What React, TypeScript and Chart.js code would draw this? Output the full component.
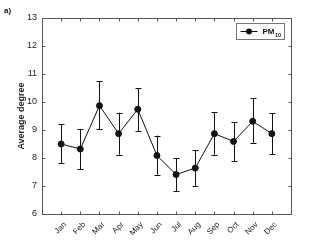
import React, { useEffect, useRef } from "react";
import { Chart, registerables } from "chart.js";

Chart.register(...registerables);

const months = ["Jan", "Feb", "Mar", "Apr", "May", "Jun", "Jul", "Aug", "Sep", "Oct", "Nov", "Dec"];
const meanValues = [8.5, 8.32, 9.87, 8.87, 9.74, 8.09, 7.41, 7.64, 8.87, 8.59, 9.31, 8.87];
const upperValues = [9.2, 9.04, 10.74, 9.62, 10.5, 8.8, 8.0, 8.29, 9.64, 9.29, 10.13, 9.6];
const lowerValues = [7.82, 7.6, 9.02, 8.12, 8.95, 7.4, 6.82, 7.0, 8.12, 7.89, 8.54, 8.14];
const yTicks = [6, 7, 8, 9, 10, 11, 12, 13];
const seriesName = "PM";
const seriesSub = "10";
const panelLabel = "a)";
const yTitle = "Average degree";

const FONT = "'Liberation Sans', Arial, sans-serif";

const framePlugin = {
  id: "frame",
  afterDatasetsDraw(chart: any) {
    const { ctx, chartArea: a, scales } = chart;
    const xs = scales.x;
    const ys = scales.y;
    ctx.save();
    // error bars
    ctx.strokeStyle = "#111";
    ctx.lineWidth = 1;
    months.forEach((_, i) => {
      const px = Math.round(xs.getPixelForValue(i + 1)) + 0.5;
      const top = ys.getPixelForValue(upperValues[i]);
      const bot = ys.getPixelForValue(lowerValues[i]);
      ctx.beginPath();
      ctx.moveTo(px, top);
      ctx.lineTo(px, bot);
      ctx.moveTo(px - 3, Math.round(top) + 0.5);
      ctx.lineTo(px + 3, Math.round(top) + 0.5);
      ctx.moveTo(px - 3, Math.round(bot) + 0.5);
      ctx.lineTo(px + 3, Math.round(bot) + 0.5);
      ctx.stroke();
    });
    // box
    ctx.strokeStyle = "#555";
    ctx.lineWidth = 1;
    const l = Math.round(a.left) + 0.5;
    const r = Math.round(a.right) + 0.5;
    const t = Math.round(a.top) + 0.5;
    const b = Math.round(a.bottom) + 0.5;
    ctx.strokeRect(l, t, r - l, b - t);
    // ticks inward
    ctx.beginPath();
    for (let i = 1; i <= 12; i++) {
      const px = Math.round(xs.getPixelForValue(i)) + 0.5;
      ctx.moveTo(px, b);
      ctx.lineTo(px, b - 3);
      ctx.moveTo(px, t);
      ctx.lineTo(px, t + 3);
    }
    yTicks.forEach((v) => {
      const py = Math.round(ys.getPixelForValue(v)) + 0.5;
      ctx.moveTo(l, py);
      ctx.lineTo(l + 3, py);
      ctx.moveTo(r, py);
      ctx.lineTo(r - 3, py);
    });
    ctx.stroke();

    // legend
    const lx = 236.5, ly = 23.5, lw = 48, lh = 16;
    ctx.fillStyle = "#fff";
    ctx.fillRect(lx, ly, lw, lh);
    ctx.strokeStyle = "#777";
    ctx.strokeRect(lx, ly, lw, lh);
    ctx.strokeStyle = "#111";
    ctx.beginPath();
    ctx.moveTo(lx + 4, ly + 8);
    ctx.lineTo(lx + 21, ly + 8);
    ctx.stroke();
    ctx.fillStyle = "#111";
    ctx.beginPath();
    ctx.arc(lx + 12.5, ly + 8, 3, 0, Math.PI * 2);
    ctx.fill();
    ctx.font = `bold 8px ${FONT}`;
    ctx.textBaseline = "alphabetic";
    ctx.textAlign = "left";
    ctx.fillText(seriesName, lx + 26, ly + 10.5);
    const w = ctx.measureText(seriesName).width;
    ctx.font = `bold 5.5px ${FONT}`;
    ctx.fillText(seriesSub, lx + 26 + w + 0.5, ly + 13);

    // panel label
    ctx.font = `bold 8px ${FONT}`;
    ctx.fillText(panelLabel, 4, 13);
    ctx.restore();
  },
};

export default function App() {
  const ref = useRef<HTMLCanvasElement | null>(null);
  useEffect(() => {
    if (!ref.current) return;
    const chart = new Chart(ref.current, {
      type: "line",
      data: {
        datasets: [
          {
            data: meanValues.map((v, i) => ({ x: i + 1, y: v })),
            borderColor: "#111",
            backgroundColor: "#111",
            borderWidth: 1,
            pointRadius: 3,
            pointHoverRadius: 3,
            pointBackgroundColor: "#111",
            pointBorderColor: "#111",
            fill: false,
          },
        ],
      },
      plugins: [framePlugin],
      options: {
        animation: false,
        responsive: false,
        events: [],
        layout: { padding: { top: 18, right: 30, left: 16, bottom: 0 } },
        plugins: { legend: { display: false }, tooltip: { enabled: false } },
        scales: {
          x: {
            type: "linear",
            min: 0,
            max: 13,
            grid: { display: false, drawTicks: false },
            border: { display: false },
            afterBuildTicks: (scale: any) => {
              scale.ticks = months.map((_, i) => ({ value: i + 1 }));
            },
            afterFit: (scale: any) => {
              scale.height = 27;
            },
            ticks: {
              autoSkip: false,
              minRotation: 45,
              maxRotation: 45,
              padding: 6,
              labelOffset: 4,
              color: "#222",
              font: { family: FONT, size: 8 },
              callback: (v: any) => months[Number(v) - 1] ?? "",
            },
          },
          y: {
            min: 6,
            max: 13,
            grid: { display: false, drawTicks: false },
            border: { display: false },
            afterBuildTicks: (scale: any) => {
              scale.ticks = yTicks.map((v) => ({ value: v }));
            },
            afterFit: (scale: any) => {
              scale.width = 26;
            },
            title: {
              display: true,
              text: yTitle,
              color: "#222",
              font: { family: FONT, size: 9, weight: "bold" },
              padding: { top: 0, bottom: 0 },
            },
            ticks: {
              padding: 5,
              color: "#222",
              font: { family: FONT, size: 9 },
            },
          },
        },
      },
    } as any);
    return () => chart.destroy();
  }, []);
  return (
    <div style={{ position: "fixed", left: 0, top: 0, width: 321, height: 241, background: "#fff" }}>
      <canvas ref={ref} width={321} height={241} style={{ width: 321, height: 241 }} />
    </div>
  );
}
